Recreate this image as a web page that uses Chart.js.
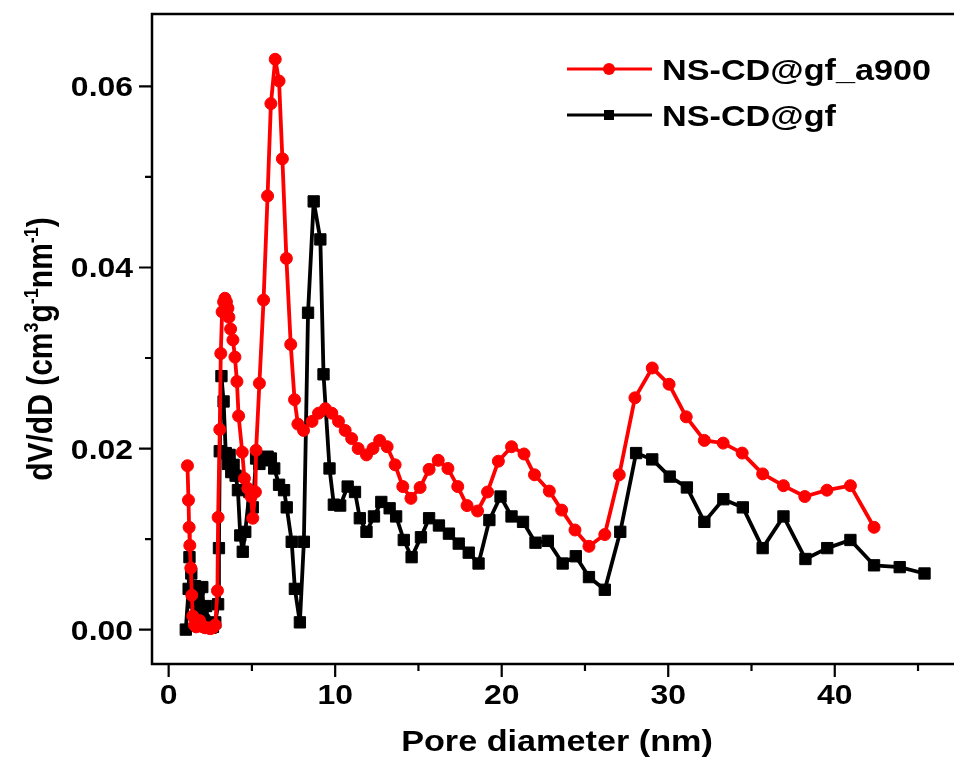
<!DOCTYPE html>
<html>
<head>
<meta charset="utf-8">
<script src="https://cdn.jsdelivr.net/npm/chart.js@4.4.1/dist/chart.umd.min.js"></script>
<style>
  html, body { margin: 0; padding: 0; background: #fff; overflow: hidden; }
  #wrap { width: 954px; height: 760px; }
</style>
</head>
<body>
<div id="wrap"><canvas id="psd" width="954" height="760"></canvas></div>
<script>
// BJH pore size distribution
const diamA900 = [1.13, 1.19, 1.23, 1.27, 1.33, 1.39, 1.45, 1.55, 1.65, 1.75, 1.85, 1.95, 2.05, 2.2, 2.35, 2.5, 2.65, 2.8, 2.93, 2.97,
  3.07, 3.13, 3.21, 3.30, 3.38, 3.47, 3.56, 3.62, 3.72, 3.86, 3.98, 4.10, 4.20, 4.42, 4.55, 4.75, 4.95, 5.05, 5.21, 5.25,
  5.45, 5.70, 5.94, 6.14, 6.40, 6.63, 6.83, 7.07, 7.33, 7.56, 7.76, 8.10, 8.61, 9.0, 9.41, 9.80, 10.2, 10.6, 10.99, 11.38,
  11.88, 12.27, 12.67, 13.12, 13.6, 14.06, 14.55, 15.1, 15.64, 16.19, 16.77, 17.36, 17.92, 18.55, 19.15, 19.8, 20.59, 21.34, 21.97, 22.86,
  23.6, 24.4, 25.24, 26.19, 27.06, 28.0, 29.04, 30.05, 31.08, 32.17, 33.3, 34.44, 35.67, 36.92, 38.2, 39.53, 40.94, 42.36];
const dvA900 = [0.0181, 0.0143, 0.0113, 0.0093, 0.0068, 0.0038, 0.0015, 0.0005, 0.0003, 0.0008, 0.0010, 0.0006, 0.0003, 0.0002, 0.0002, 0.0001, 0.0002, 0.0005, 0.0043, 0.0124,
  0.0221, 0.0305, 0.0351, 0.0362, 0.0366, 0.0362, 0.0355, 0.0345, 0.0332, 0.0320, 0.0301, 0.0274, 0.0236, 0.0196, 0.0167, 0.0156, 0.0147, 0.0123, 0.0152, 0.0198,
  0.0272, 0.0364, 0.0479, 0.0581, 0.0630, 0.0606, 0.0520, 0.0410, 0.0315, 0.0254, 0.0227, 0.0220, 0.0230, 0.0239, 0.0244, 0.0239, 0.0230, 0.0220, 0.0211, 0.0200,
  0.0193, 0.0200, 0.0209, 0.0202, 0.0182, 0.0158, 0.0145, 0.0157, 0.0177, 0.0187, 0.0178, 0.0158, 0.0137, 0.0131, 0.0152, 0.0186, 0.0202, 0.0194, 0.0171, 0.0153,
  0.0132, 0.0110, 0.0092, 0.0105, 0.0171, 0.0256, 0.0289, 0.0271, 0.0235, 0.0209, 0.0206, 0.0195, 0.0172, 0.0159, 0.0147, 0.0154, 0.0159, 0.0113];

const diamGf = [1.03, 1.20, 1.25, 1.36, 1.47, 1.58, 1.69, 1.80, 1.91, 2.02, 2.13, 2.25, 2.38, 2.52, 2.66, 2.80, 2.97, 3.02, 3.07, 3.17,
  3.30, 3.43, 3.56, 3.66, 3.76, 3.90, 4.02, 4.16, 4.30, 4.45, 4.60, 4.85, 5.05, 5.25, 5.45, 5.64, 5.94, 6.14, 6.34, 6.63,
  6.93, 7.09, 7.39, 7.58, 7.88, 8.12, 8.37, 8.71, 9.11, 9.30, 9.66, 9.92, 10.3, 10.75, 11.19, 11.48, 11.88, 12.33, 12.77, 13.27,
  13.66, 14.12, 14.59, 15.15, 15.64, 16.23, 16.83, 17.42, 18.02, 18.61, 19.26, 19.93, 20.59, 21.28, 22.03, 22.77, 23.66, 24.45, 25.24, 26.19,
  27.12, 28.07, 29.04, 30.09, 31.12, 32.17, 33.31, 34.48, 35.67, 36.92, 38.24, 39.55, 40.94, 42.36, 43.9, 45.39];
const dvGf = [0.0000, 0.0045, 0.0080, 0.0062, 0.0030, 0.0048, 0.0018, 0.0045, 0.0012, 0.0047, 0.0010, 0.0026, 0.0005, 0.0002, 0.0003, 0.0008, 0.0028, 0.0090, 0.0197, 0.0280,
  0.0252, 0.0195, 0.0183, 0.0193, 0.0174, 0.0182, 0.0170, 0.0154, 0.0104, 0.0086, 0.0108, 0.0152, 0.0135, 0.0189, 0.0183, 0.0187, 0.0191, 0.0189, 0.0178, 0.0160,
  0.0154, 0.0135, 0.0097, 0.0045, 0.0008, 0.0097, 0.0350, 0.0473, 0.0431, 0.0282, 0.0178, 0.0138, 0.0137, 0.0158, 0.0152, 0.0123, 0.0108, 0.0125, 0.0141, 0.0134,
  0.0125, 0.0099, 0.0080, 0.0102, 0.0123, 0.0115, 0.0106, 0.0095, 0.0085, 0.0073, 0.0121, 0.0147, 0.0125, 0.0119, 0.0096, 0.0098, 0.0073, 0.0081, 0.0058, 0.0044,
  0.0108, 0.0195, 0.0188, 0.0169, 0.0157, 0.0119, 0.0144, 0.0135, 0.0090, 0.0125, 0.0078, 0.0090, 0.0099, 0.0071, 0.0069, 0.0062];

const seriesNames = ['NS-CD@gf_a900', 'NS-CD@gf'];

// axis ticks
const xMajor = [0, 10, 20, 30, 40];
const xMinor = [5, 15, 25, 35, 45];
const yMajor = [0, 0.02, 0.04, 0.06];
const yMinor = [0.01, 0.03, 0.05];

const FONT = '"Liberation Sans", Arial, sans-serif';
const STRETCH = 1.14;   // the original figure is a little wider than tall

function pairs(xs, ys) {
    return xs.map((x, i) => ({ x: x, y: ys[i] }));
}

function drawStretched(ctx, text, x, y, align, font) {
    ctx.save();
    ctx.translate(x, y);
    ctx.scale(STRETCH, 1);
    ctx.font = font;
    ctx.textAlign = align;
    ctx.textBaseline = 'alphabetic';
    ctx.fillStyle = '#000';
    ctx.fillText(text, 0, 0);
    ctx.restore();
}

// frame, ticks, tick labels, axis titles and legend
const decorations = {
    id: 'decorations',
    afterDraw(chart) {
        const ctx = chart.ctx;
        const area = chart.chartArea;
        const xs = chart.scales.x;
        const ys = chart.scales.y;
        ctx.save();
        ctx.strokeStyle = '#000';
        ctx.lineWidth = 2.5;
        // right side of the box is cut off in the original
        ctx.beginPath();
        ctx.moveTo(chart.width + 2, area.top);
        ctx.lineTo(area.left, area.top);
        ctx.lineTo(area.left, area.bottom);
        ctx.lineTo(chart.width + 2, area.bottom);
        ctx.stroke();

        ctx.lineWidth = 2.2;
        ctx.beginPath();
        xMajor.forEach(v => { const p = xs.getPixelForValue(v); ctx.moveTo(p, area.bottom); ctx.lineTo(p, area.bottom + 13); });
        xMinor.forEach(v => { const p = xs.getPixelForValue(v); ctx.moveTo(p, area.bottom); ctx.lineTo(p, area.bottom + 7); });
        yMajor.forEach(v => { const p = ys.getPixelForValue(v); ctx.moveTo(area.left, p); ctx.lineTo(area.left - 13, p); });
        yMinor.forEach(v => { const p = ys.getPixelForValue(v); ctx.moveTo(area.left, p); ctx.lineTo(area.left - 7, p); });
        ctx.stroke();

        const tickFont = 'bold 28px ' + FONT;
        xMajor.forEach(v => drawStretched(ctx, String(v), xs.getPixelForValue(v), area.bottom + 40, 'center', tickFont));
        yMajor.forEach(v => drawStretched(ctx, v.toFixed(2), area.left - 19, ys.getPixelForValue(v) + 10, 'right', tickFont));

        drawStretched(ctx, 'Pore diameter (nm)', 557, 751, 'center', 'bold 30px ' + FONT);

        // y title with superscripts
        const parts = [['dV/dD (cm', 0], ['3', 1], ['g', 0], ['-1', 1], ['nm', 0], ['-1', 1], [')', 0]];
        const big = 'bold 30px ' + FONT;
        const small = 'bold 18px ' + FONT;
        ctx.translate(52, 349);
        ctx.rotate(-Math.PI / 2);
        ctx.scale(1, STRETCH);
        ctx.fillStyle = '#000';
        ctx.textBaseline = 'alphabetic';
        ctx.textAlign = 'left';
        let total = 0;
        parts.forEach(p => { ctx.font = p[1] ? small : big; total += ctx.measureText(p[0]).width; });
        let cx = -total / 2;
        parts.forEach(p => {
            ctx.font = p[1] ? small : big;
            ctx.fillText(p[0], cx, p[1] ? -12 : 0);
            cx += ctx.measureText(p[0]).width;
        });
        ctx.restore();

        // legend
        const rows = [
            { y: 69, color: '#ff0000', shape: 'circle', text: seriesNames[0] },
            { y: 115, color: '#000000', shape: 'square', text: seriesNames[1] }
        ];
        ctx.save();
        rows.forEach(r => {
            ctx.strokeStyle = r.color;
            ctx.fillStyle = r.color;
            ctx.lineWidth = 3;
            ctx.beginPath();
            ctx.moveTo(567, r.y);
            ctx.lineTo(652, r.y);
            ctx.stroke();
            if (r.shape === 'circle') {
                ctx.beginPath();
                ctx.arc(609, r.y, 6, 0, Math.PI * 2);
                ctx.fill();
            } else {
                ctx.fillRect(604, r.y - 5, 10, 10);
            }
            drawStretched(ctx, r.text, 662, r.y + 11, 'left', 'bold 30px ' + FONT);
        });
        ctx.restore();
    }
};

const ctx = document.getElementById('psd').getContext('2d');
new Chart(ctx, {
    type: 'line',
    data: {
        datasets: [
            {
                label: seriesNames[0],
                data: pairs(diamA900, dvA900),
                borderColor: '#ff0000',
                backgroundColor: '#ff0000',
                borderWidth: 3.8,
                borderJoinStyle: 'round',
                borderCapStyle: 'round',
                pointStyle: 'circle',
                pointRadius: 6,
                pointBorderWidth: 1,
                tension: 0,
                clip: false
            },
            {
                label: seriesNames[1],
                data: pairs(diamGf, dvGf),
                borderColor: '#000000',
                backgroundColor: '#000000',
                borderWidth: 3.8,
                borderJoinStyle: 'round',
                borderCapStyle: 'round',
                pointStyle: 'rect',
                pointRadius: 8,
                pointBorderWidth: 1,
                tension: 0,
                clip: false
            }
        ]
    },
    options: {
        responsive: false,
        animation: false,
        layout: { padding: { top: 14, right: 0, left: 0, bottom: 0 } },
        plugins: {
            legend: { display: false },
            tooltip: { enabled: false }
        },
        scales: {
            x: {
                type: 'linear',
                min: -1,
                max: 46.62,
                grid: { display: false },
                border: { display: false },
                ticks: { display: false },
                afterFit(scale) { scale.height = 96; }
            },
            y: {
                type: 'linear',
                min: -0.0038,
                max: 0.068,
                grid: { display: false },
                border: { display: false },
                ticks: { display: false },
                afterFit(scale) { scale.width = 152; }
            }
        }
    },
    plugins: [decorations]
});
</script>
</body>
</html>
